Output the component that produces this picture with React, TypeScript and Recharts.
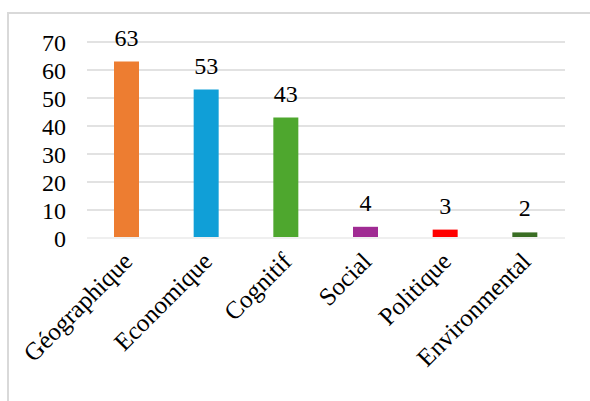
// Répartition des catégories : barres verticales avec étiquettes de valeur (recharts).

import { BarChart, Bar, XAxis, YAxis, CartesianGrid, Cell, LabelList } from "recharts"

const categories = ["Géographique", "Economique", "Cognitif", "Social", "Politique", "Environmental"]
const values = [63, 53, 43, 4, 3, 2]
const colors = ["#ED7D31", "#109FD7", "#4EA72E", "#A02B93", "#FF0000", "#3A6E24"]
const yTicks = [0, 10, 20, 30, 40, 50, 60, 70]

const FONT = "Liberation Serif"

const data = categories.map((name, i) => ({ name, value: values[i] }))

function RotatedTick(props: any) {
  const { x, y, payload } = props
  const tx = x + 7
  const ty = y + 17
  return (
    <text
      x={tx}
      y={ty}
      transform={`rotate(-45, ${tx}, ${ty})`}
      textAnchor="end"
      fill="#000"
      fontSize={25}
      style={{ fontFamily: FONT }}
    >
      {payload.value}
    </text>
  )
}

export default function App() {
  return (
    <div
      style={{
        position: "absolute",
        left: 0,
        top: 0,
        width: 590,
        height: 401,
        background: "#fff",
        overflow: "hidden",
        fontFamily: FONT,
      }}
    >
      {/* Rahmen: nur links und oben sichtbar */}
      <div style={{ position: "absolute", left: 7, top: 12, width: 2, height: 389, background: "#d9d9d9" }} />
      <div style={{ position: "absolute", left: 7, top: 12, width: 583, height: 2, background: "#d9d9d9" }} />
      <BarChart
        width={590}
        height={401}
        data={data}
        margin={{ top: 42, right: 25, bottom: 33, left: 27 }}
        style={{ position: "absolute", left: 0, top: 0, fontFamily: FONT }}
      >
        <CartesianGrid vertical={false} stroke="#d9d9d9" strokeWidth={1.5} />
        <XAxis
          dataKey="name"
          interval={0}
          height={130}
          tickLine={false}
          axisLine={{ stroke: "#efefef", strokeWidth: 2 }}
          tick={<RotatedTick />}
        />
        <YAxis
          width={60}
          domain={[0, 70]}
          ticks={yTicks}
          interval={0}
          tickLine={false}
          axisLine={false}
          tickMargin={15}
          tick={{ fill: "#000", fontSize: 24, style: { fontFamily: FONT } }}
        />
        <Bar dataKey="value" barSize={25} isAnimationActive={false}>
          {data.map((d, i) => (
            <Cell key={d.name} fill={colors[i]} />
          ))}
          <LabelList
            dataKey="value"
            position="top"
            offset={16}
            fill="#000"
            fontSize={24}
            style={{ fontFamily: FONT }}
          />
        </Bar>
      </BarChart>
    </div>
  )
}
